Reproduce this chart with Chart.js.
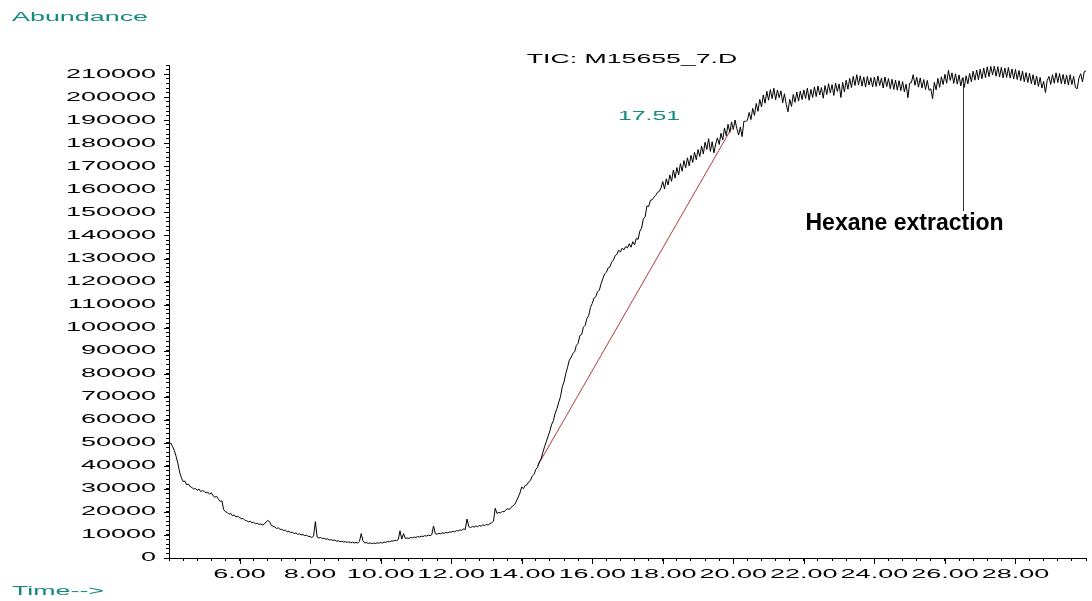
<!DOCTYPE html>
<html>
<head>
<meta charset="utf-8">
<title>TIC: M15655_7.D</title>
<script src="https://cdn.jsdelivr.net/npm/chart.js@4.4.1/dist/chart.umd.min.js"></script>
<style>
  html, body { margin: 0; padding: 0; background: #ffffff; }
  #wrap { width: 1092px; height: 601px; position: relative; }
  canvas { display: block; }
</style>
</head>
<body>
<div id="wrap"><canvas id="tic" width="1092" height="601"></canvas></div>
<script>
// Total ion chromatogram, one abundance reading every 0.05 min from 4.00 to 30.00 min
const scanStart = 4.0;
const scanStep = 0.05;
const abundance = [
  // 4.00 - 4.95
  49500, 49900, 48400, 46700, 44200, 41200, 37300, 34900, 33200, 33400, 31800, 32100, 31000, 30600, 29900, 30200, 29400, 29900, 28800, 29300,
  // 5.00 - 5.95
  28900, 28200, 28600, 27700, 28300, 27000, 26400, 26800, 25500, 24600, 24800, 21000, 20100, 19800, 19000, 19400, 18300, 18700, 17800, 18100,
  // 6.00 - 6.95
  17600, 17000, 17200, 16400, 16200, 15700, 16000, 15300, 15500, 14900, 15100, 14600, 14800, 14300, 14700, 15600, 16300, 15800, 14200, 13800,
  // 7.00 - 7.95
  13500, 12800, 13100, 12400, 12500, 11900, 12100, 11400, 11600, 11000, 11200, 10600, 10900, 10300, 10500, 10000, 10200, 9700, 9900, 9400,
  // 8.00 - 8.95
  9300, 8900, 9500, 15800, 9100, 8700, 8900, 8400, 8600, 8100, 8300, 7800, 8000, 7600, 7800, 7300, 7500, 7100, 7300, 6900,
  // 9.00 - 9.95
  7100, 6800, 7000, 6600, 6900, 6500, 6800, 6400, 7200, 10600, 7400, 6500, 6700, 6300, 6600, 6200, 6500, 6300, 6600, 6400,
  // 10.00 - 10.95
  6700, 6500, 6900, 6800, 7200, 7000, 7400, 7300, 7700, 7500, 8000, 11800, 8200, 10600, 8500, 8700, 8500, 8900, 8700, 9100,
  // 11.00 - 11.95
  8900, 9300, 9100, 9500, 9300, 9700, 9500, 9900, 9700, 10100, 13900, 10600, 10300, 10700, 10500, 10900, 10700, 11100, 10900, 11300,
  // 12.00 - 12.95
  11200, 11600, 11400, 11900, 11700, 12200, 12000, 12600, 12400, 16900, 13600, 13200, 13700, 13400, 13900, 13600, 14100, 13800, 14400, 14100,
  // 13.00 - 13.95
  14600, 14300, 14900, 15300, 16000, 21600, 19300, 19800, 19500, 20300, 20000, 20900, 21400, 21000, 22000, 22600, 23200, 24700, 26400, 28200,
  // 14.00 - 14.95
  30800, 30100, 31500, 31800, 33100, 33700, 35500, 36300, 38400, 39400, 41700, 43000, 45800, 48400, 50600, 52900, 55200, 58000, 59600, 62900,
  // 15.00 - 15.95
  64800, 67600, 70000, 74300, 76400, 80000, 82800, 85900, 87000, 88800, 89500, 92300, 93200, 96600, 97000, 100200, 101000, 104000, 105200, 108800,
  // 16.00 - 16.95
  110500, 112800, 113400, 115600, 116200, 119000, 121200, 123300, 124000, 125900, 126300, 128400, 129300, 131200, 131800, 133600, 132900, 134500, 133800, 135200,
  // 17.00 - 17.95
  134600, 136400, 134900, 137300, 135900, 138800, 138300, 141900, 143200, 147200, 148100, 152800, 152600, 155300, 155500, 156600, 157400, 158700, 159100, 160600,
  // 18.00 - 18.95
  163400, 160200, 164600, 161900, 166300, 163500, 168400, 164900, 169500, 166300, 171200, 167900, 172500, 169400, 173700, 170200, 174800, 171700, 176100, 172900,
  // 19.00 - 19.95
  177300, 174300, 178800, 175400, 180500, 177300, 182000, 176500, 180700, 175900, 179700, 182400, 179500, 184400, 181500, 186700, 183300, 188300, 184700, 189300,
  // 20.00 - 20.95
  186000, 190100, 186400, 183600, 187100, 182900, 189600, 189500, 190000, 193400, 190300, 195200, 192100, 197300, 193900, 199100, 195800, 201000, 197400, 202600,
  // 21.00 - 21.95
  198700, 203300, 199400, 203900, 198900, 203100, 199800, 202800, 197600, 201500, 196900, 193700, 199100, 196000, 201200, 197800, 202300, 198300, 202700, 199000,
  // 22.00 - 22.95
  203200, 199500, 204000, 198700, 203400, 199900, 204500, 200300, 204900, 201000, 204200, 199600, 205100, 201200, 205900, 201900, 205500, 200800, 206200, 202500,
  // 23.00 - 23.95
  205800, 199900, 206500, 202300, 207400, 203500, 208200, 204200, 209100, 205100, 209800, 205400, 209300, 204800, 208800, 204400, 209000, 205300, 208500, 204500,
  // 24.00 - 24.95
  208700, 204700, 209200, 205100, 208300, 204000, 208800, 204600, 208100, 203700, 207800, 203400, 207500, 203100, 207200, 202900, 206800, 202400, 205700, 199800,
  // 25.00 - 25.95
  206100, 206400, 209800, 205200, 208700, 204400, 208400, 204000, 207700, 203300, 207300, 203000, 203700, 199400, 206500, 203200, 208200, 204300, 208900, 205500,
  // 26.00 - 26.95
  210000, 206100, 211700, 207300, 210600, 206000, 210200, 205700, 209700, 204900, 208500, 204300, 209300, 205800, 210400, 206700, 211300, 207400, 211800, 207600,
  // 27.00 - 27.95
  212200, 208000, 212700, 208500, 213200, 208900, 213400, 209700, 213500, 209100, 213300, 208800, 213000, 208400, 212700, 208600, 212900, 208300, 212300, 207900,
  // 28.00 - 28.95
  212100, 207700, 211600, 207200, 211400, 206700, 210700, 206400, 210400, 205900, 209800, 205300, 209200, 204700, 208600, 204000, 206900, 202000, 207300, 209000,
  // 29.00 - 29.95
  205600, 209800, 206100, 210600, 206400, 210300, 205900, 209900, 205700, 209600, 205300, 209800, 205500, 209100, 204200, 203700, 208400, 210200, 206700, 211100,
  // 30.00
  211500
];
const scanTimes = abundance.map((_, i) => +(scanStart + i * scanStep).toFixed(2));

// Integration baseline drawn under the peak at 17.51 min
const baselineTimes = [14.45, 19.95];
const baselineValues = [40000, 186500];

// Axis labels
const xLabelTimes = [6, 8, 10, 12, 14, 16, 18, 20, 22, 24, 26, 28];
const yLabelValues = [0, 10000, 20000, 30000, 40000, 50000, 60000, 70000, 80000, 90000, 100000,
  110000, 120000, 130000, 140000, 150000, 160000, 170000, 180000, 190000, 200000, 210000];

// Annotations
const titleText = 'TIC: M15655_7.D';
const peakLabel = '17.51';
const yAxisName = 'Abundance';
const xAxisName = 'Time-->';
const noteText = 'Hexane extraction';
const noteTime = 26.5;

const FONT = '"Liberation Sans", Arial, Helvetica, sans-serif';
const TEAL = '#138a7e';
const TICK_STRETCH = 2.25;

const canvas = document.getElementById('tic');
const ctx = canvas.getContext('2d');

// The instrument printout uses horizontally widened lettering; widen text about its anchor point.
const plainFillText = ctx.fillText.bind(ctx);
let textStretch = TICK_STRETCH;
ctx.fillText = function (text, x, y) {
  if (textStretch === 1) { plainFillText(text, x, y); return; }
  ctx.save();
  ctx.translate(x, y);
  ctx.scale(textStretch, 1);
  plainFillText(text, 0, 0);
  ctx.restore();
};

function wideText(str, x, y, size, stretch, color, align, weight) {
  ctx.save();
  ctx.font = (weight || 'normal') + ' ' + size + 'px ' + FONT;
  ctx.fillStyle = color;
  ctx.textAlign = align;
  ctx.textBaseline = 'alphabetic';
  const prev = textStretch;
  textStretch = stretch;
  ctx.fillText(str, x, y);
  textStretch = prev;
  ctx.restore();
}

const isLabelled = (list, v) => list.some(t => Math.abs(t - v) < 1e-6);

const decorations = {
  id: 'decorations',
  afterDraw(chart) {
    const xs = chart.scales.x;
    const ys = chart.scales.y;
    const area = chart.chartArea;
    ctx.save();
    ctx.strokeStyle = '#000';
    ctx.lineWidth = 1;
    ctx.beginPath();
    // longer marks at the labelled ticks
    xLabelTimes.forEach(t => {
      const px = Math.round(xs.getPixelForValue(t)) + 0.5;
      ctx.moveTo(px, area.bottom);
      ctx.lineTo(px, area.bottom + 6);
    });
    yLabelValues.forEach(v => {
      const py = Math.round(ys.getPixelForValue(v)) + 0.5;
      ctx.moveTo(area.left - 5, py);
      ctx.lineTo(area.left, py);
    });
    ctx.stroke();

    // pointer from the trace down to the note
    const idx = Math.round((noteTime - scanStart) / scanStep);
    const lx = Math.round(xs.getPixelForValue(noteTime)) + 0.5;
    ctx.strokeStyle = '#333';
    ctx.beginPath();
    ctx.moveTo(lx, ys.getPixelForValue(abundance[idx]));
    ctx.lineTo(lx, 211);
    ctx.stroke();
    ctx.restore();

    wideText(noteText, lx - 158, 230, 23, 1, '#000', 'left', 'bold');
    wideText(titleText, 632, 63, 13, 2.05, '#000', 'center');
    wideText(peakLabel, 649, 120, 12, 2.07, TEAL, 'center');
    wideText(yAxisName, 12, 21, 12, 2.24, TEAL, 'left');
    wideText(xAxisName, 12, 595, 12, 2.23, TEAL, 'left');
  }
};

new Chart(ctx, {
  type: 'line',
  data: {
    datasets: [
      {
        label: 'TIC',
        data: scanTimes.map((t, i) => ({ x: t, y: abundance[i] })),
        borderColor: '#000',
        borderWidth: 1,
        pointRadius: 0,
        fill: false,
        tension: 0
      },
      {
        label: 'baseline',
        data: baselineTimes.map((t, i) => ({ x: t, y: baselineValues[i] })),
        borderColor: '#b23b3b',
        borderWidth: 1,
        pointRadius: 0,
        fill: false,
        tension: 0
      }
    ]
  },
  options: {
    responsive: false,
    animation: false,
    devicePixelRatio: 1,
    layout: { padding: { top: 65, right: 1, bottom: 0, left: 0 } },
    plugins: {
      legend: { display: false },
      tooltip: { enabled: false },
      title: { display: false }
    },
    scales: {
      x: {
        type: 'linear',
        position: 'bottom',
        min: 4,
        max: 30,
        afterFit(scale) { scale.height = 43; },
        border: { display: true, color: '#000', width: 1 },
        grid: { display: true, drawOnChartArea: false, drawTicks: true, tickLength: 3, color: '#000', tickColor: '#000' },
        ticks: {
          stepSize: 0.4,
          autoSkip: false,
          maxRotation: 0,
          minRotation: 0,
          padding: 6,
          color: '#000',
          font: { family: FONT, size: 12 },
          callback: (v) => isLabelled(xLabelTimes, v) ? Number(v).toFixed(2) : ''
        }
      },
      y: {
        type: 'linear',
        min: 0,
        max: 214000,
        afterFit(scale) { scale.width = 169; },
        border: { display: true, color: '#000', width: 1 },
        grid: { display: true, drawOnChartArea: false, drawTicks: true, tickLength: 3, color: '#000', tickColor: '#000' },
        ticks: {
          stepSize: 2000,
          autoSkip: false,
          padding: 10,
          color: '#000',
          font: { family: FONT, size: 12 },
          callback: (v) => isLabelled(yLabelValues, v) ? String(v) : ''
        }
      }
    }
  },
  plugins: [decorations]
});
</script>
</body>
</html>
